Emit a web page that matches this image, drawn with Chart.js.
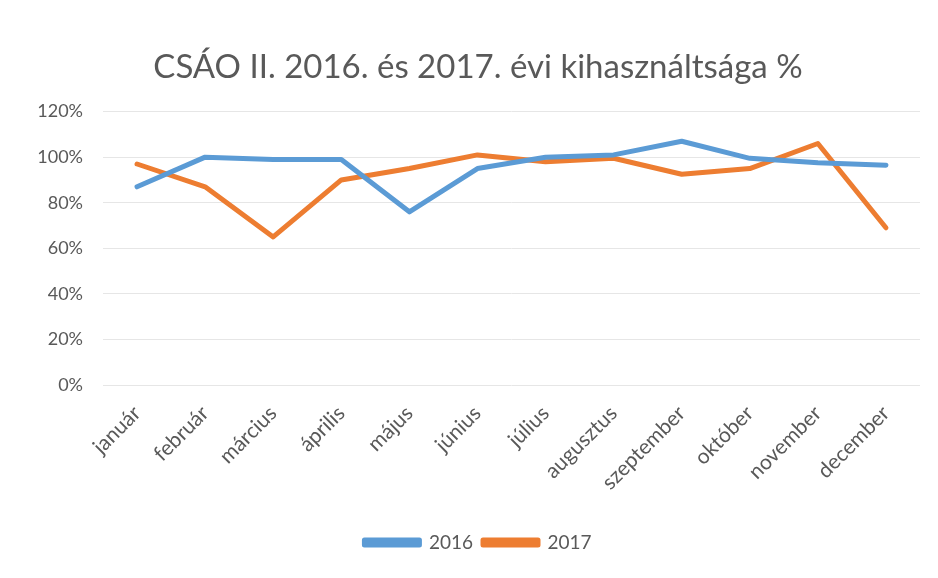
<!DOCTYPE html>
<html>
<head>
<meta charset="utf-8">
<script src="https://cdn.jsdelivr.net/npm/chart.js@4/dist/chart.umd.min.js"></script>
<style>
html,body{margin:0;padding:0;background:#fff;}
#wrap{width:938px;height:578px;position:relative;}
</style>
</head>
<body>
<div id="wrap"><canvas id="c" width="938" height="578"></canvas></div>
<script>
const months = ["január","február","március","április","május","június","július","augusztus","szeptember","október","november","december"];
const series2016 = [87, 100, 99, 99, 76, 95, 100, 101, 107, 99.5, 97.5, 96.5];
const series2017 = [97, 87, 65, 90, 95, 101, 98, 99.5, 92.5, 95, 106, 69];
const yTicks = [0, 20, 40, 60, 80, 100, 120];

const ctx = document.getElementById('c');
new Chart(ctx, {
  type: 'line',
  data: {
    labels: months,
    datasets: [
      {label: '2016', data: series2016, borderColor: '#5B9BD5', backgroundColor: '#5B9BD5', borderWidth: 5, pointRadius: 0, tension: 0, borderCapStyle: 'round', borderJoinStyle: 'round'},
      {label: '2017', data: series2017, borderColor: '#ED7D31', backgroundColor: '#ED7D31', borderWidth: 5, pointRadius: 0, tension: 0, borderCapStyle: 'round', borderJoinStyle: 'round'}
    ]
  },
  options: {
    responsive: false,
    animation: false,
    layout: {padding: {left: 36, right: 18, top: 0, bottom: 16}},
    plugins: {
      title: {display: true, text: 'CSÁO II. 2016. és 2017. évi kihasználtsága %', color: '#595959', font: {family: 'Lato', size: 33, weight: 'normal'}, padding: {top: 48, bottom: 24}},
      legend: {position: 'bottom', labels: {color: '#595959', font: {family: 'Lato', size: 19}, boxWidth: 55, boxHeight: 5, padding: 10},
        onClick: null},
      tooltip: {enabled: false}
    },
    scales: {
      x: {
        offset: true,
        grid: {display: false},
        border: {display: false},
        afterFit: (axis) => { axis.height = 138; },
        ticks: {color: '#595959', font: {family: 'Lato', size: 21}, maxRotation: 45, minRotation: 45, padding: 8, autoSkip: false}
      },
      y: {
        min: 0, max: 120,
        afterBuildTicks: (axis) => { axis.ticks = yTicks.map(v => ({value: v})); },
        afterFit: (axis) => { axis.width = 67; },
        grid: {color: '#e6e6e6', lineWidth: 1, drawTicks: false},
        border: {display: false},
        ticks: {color: '#595959', font: {family: 'Lato', size: 18}, padding: 20, callback: v => v + '%'}
      }
    }
  }
});
</script>
</body>
</html>
